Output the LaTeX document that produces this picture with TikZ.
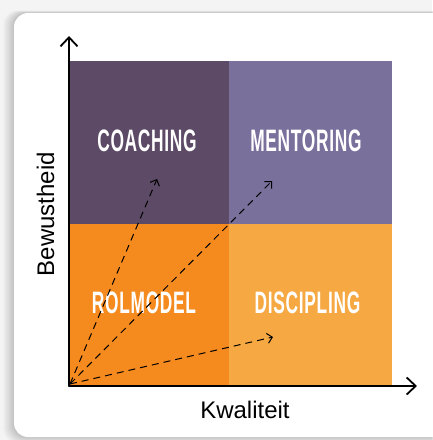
\documentclass[tikz,border=0pt]{standalone}
\usepackage{fontspec}
\usepackage{graphicx}
\setmainfont{Liberation Sans}
\usetikzlibrary{arrows.meta}
\definecolor{bgc}{HTML}{F4F4F4}
\definecolor{qcoach}{HTML}{5C4A66}
\definecolor{qment}{HTML}{79709B}
\definecolor{qrol}{HTML}{F58A1F}
\definecolor{qdisc}{HTML}{F6A843}
\tikzset{
  quad/.style={draw=none, inner sep=0pt, minimum width=160pt, minimum height=163pt},
  qlabel/.style={text=white, inner sep=0pt, font=\fontsize{31}{31}\selectfont\bfseries\addfontfeature{LetterSpace=4}},
  axis/.style={line width=1.8pt, line cap=round, line join=round, -{Straight Barb[length=9pt,width=17pt,line width=1.8pt]}},
  vec/.style={line width=1pt, dash pattern=on 7pt off 5pt, -{Straight Barb[length=5pt,width=10pt,line width=1pt]}},
  axlabel/.style={text=black, inner sep=0pt, font=\fontsize{24}{24}\selectfont}
}
\newcommand{\qtext}[1]{\scalebox{0.56}[1]{#1}}
\begin{document}
\begin{tikzpicture}[x=1pt,y=-1pt]
\useasboundingbox (0,0) rectangle (432,440);
\fill[bgc] (0,0) rectangle (432,440);
% card shadow
\foreach \i in {1,...,12}{
  \fill[black, opacity=0.014, rounded corners=14pt] (14-\i*0.9,13-\i*0.2) rectangle (460,437+\i*0.5);
}
\fill[white, rounded corners=14pt] (14,13) rectangle (460,437);
% quadrants
\node[quad, fill=qcoach] (coach) at (149,142.5) {};
\node[quad, fill=qment, minimum width=163pt] (ment) at (310.5,142.5) {};
\node[quad, fill=qrol] (rol) at (149,305) {};
\node[quad, fill=qdisc, minimum width=163pt] (disc) at (310.5,305) {};
% labels
\node[qlabel] (lcoach) at (147,140.5) {\qtext{COACHING}};
\node[qlabel] (lment) at (306,140.5) {\qtext{MENTORING}};
\node[qlabel] (lrol) at (144,303) {\qtext{ROLMODEL}};
\node[qlabel] (ldisc) at (307.5,303) {\qtext{DISCIPLING}};
% axes
\coordinate (O) at (69,386);
\coordinate (ytip) at (69,36);
\coordinate (xtip) at (417,386);
\draw[axis] (O) -- (ytip);
\draw[axis] (O) -- (xtip);
% vectors
\coordinate (vs) at (70,384);
\coordinate (tc) at (157,179);
\coordinate (tm) at (272,181);
\coordinate (td) at (273,337);
\draw[vec] (vs) -- (tc);
\draw[vec] (vs) -- (tm);
\draw[vec] (vs) -- (td);
% axis labels
\node[axlabel, anchor=base] (kw) at (245,418) {Kwaliteit};
\node[axlabel, anchor=base, rotate=90] (bw) at (54,214) {Bewustheid};
\end{tikzpicture}
\end{document}
